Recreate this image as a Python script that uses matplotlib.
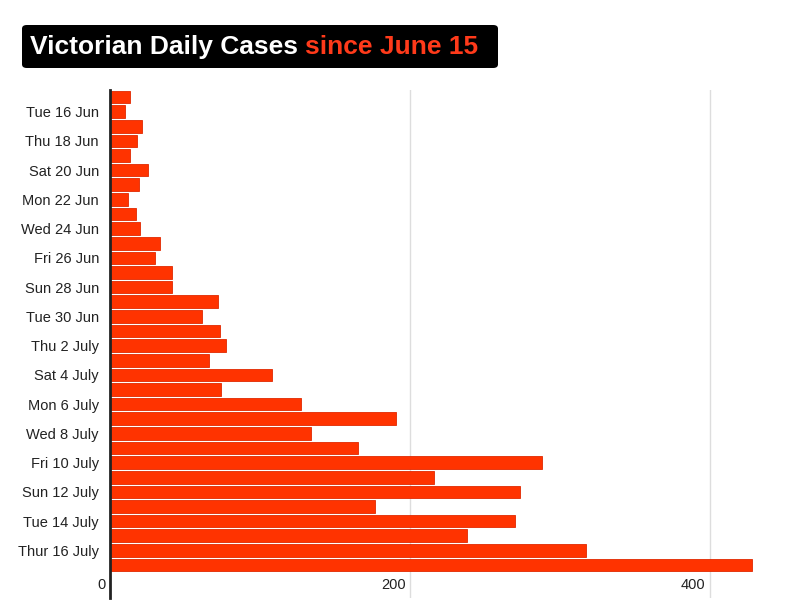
import matplotlib
matplotlib.use("Agg")
import matplotlib.pyplot as plt
from matplotlib.patches import FancyBboxPatch

plt.rcParams['font.family'] = ['Liberation Sans', 'DejaVu Sans']

dates = ["Mon 15 Jun", "Tue 16 Jun", "Wed 17 Jun", "Thu 18 Jun", "Fri 19 Jun",
         "Sat 20 Jun", "Sun 21 Jun", "Mon 22 Jun", "Tue 23 Jun", "Wed 24 Jun",
         "Thu 25 Jun", "Fri 26 Jun", "Sat 27 Jun", "Sun 28 Jun", "Mon 29 Jun",
         "Tue 30 Jun", "Wed 1 July", "Thu 2 July", "Fri 3 July", "Sat 4 July",
         "Sun 5 July", "Mon 6 July", "Tue 7 July", "Wed 8 July", "Thu 9 July",
         "Fri 10 July", "Sat 11 July", "Sun 12 July", "Mon 13 July", "Tue 14 July",
         "Wed 15 July", "Thur 16 July", "Fri 17 July"]
cases = [13, 10, 21, 18, 13, 25, 19, 12, 17, 20, 33, 30, 41, 41, 72, 61, 73,
         77, 66, 108, 74, 127, 191, 134, 165, 288, 216, 273, 177, 270, 238, 317, 428]
label_every = 2
xticks = [0, 200, 400]

fig = plt.figure(figsize=(8, 6.1), dpi=100)
ax = fig.add_axes([110/800, 1-598/610, 660/800, (598-90)/610])

n = len(cases)
ypos = list(range(n))
ax.barh(ypos, cases, height=0.86, color='#FF3300', edgecolor='#E02800', linewidth=0.6, zorder=3)
ax.set_xlim(0, 440)
ax.set_ylim(n - 1 + 2.26, -0.48)

ax.set_yticks([i for i in ypos if i % label_every == 1])
ax.set_yticklabels([dates[i] for i in ypos if i % label_every == 1], fontsize=10.5, color='#222222')
ax.tick_params(axis='y', length=0, pad=8)
ax.set_xticks([])

for t in xticks:
    if t > 0:
        ax.axvline(t, color='#DDDDDD', linewidth=1, zorder=1)
    ax.text(t - 3, n - 1 + 1.4, str(t), ha='right', va='center', fontsize=10.5, color='#222222')

for s in ['top', 'right', 'bottom']:
    ax.spines[s].set_visible(False)
ax.spines['left'].set_color('#222222')
ax.spines['left'].set_linewidth(2)
ax.spines['left'].set_zorder(5)

# title box
box = FancyBboxPatch((22/800, 1-68/610), (498-22)/800, 43/610,
                     boxstyle="round,pad=0,rounding_size=0.006",
                     transform=fig.transFigure, facecolor='black', edgecolor='none')
fig.patches.append(box)
t1 = fig.text(30/800, 1-47/610, "Victorian Daily Cases ", color='white', fontsize=19,
              fontweight='bold', va='center', ha='left')
fig.canvas.draw()
bb = t1.get_window_extent()
fig.text(bb.x1/800, 1-47/610, "since June 15", color='#FF3A1A', fontsize=19,
         fontweight='bold', va='center', ha='left')

fig.savefig("out.png", dpi=100)
